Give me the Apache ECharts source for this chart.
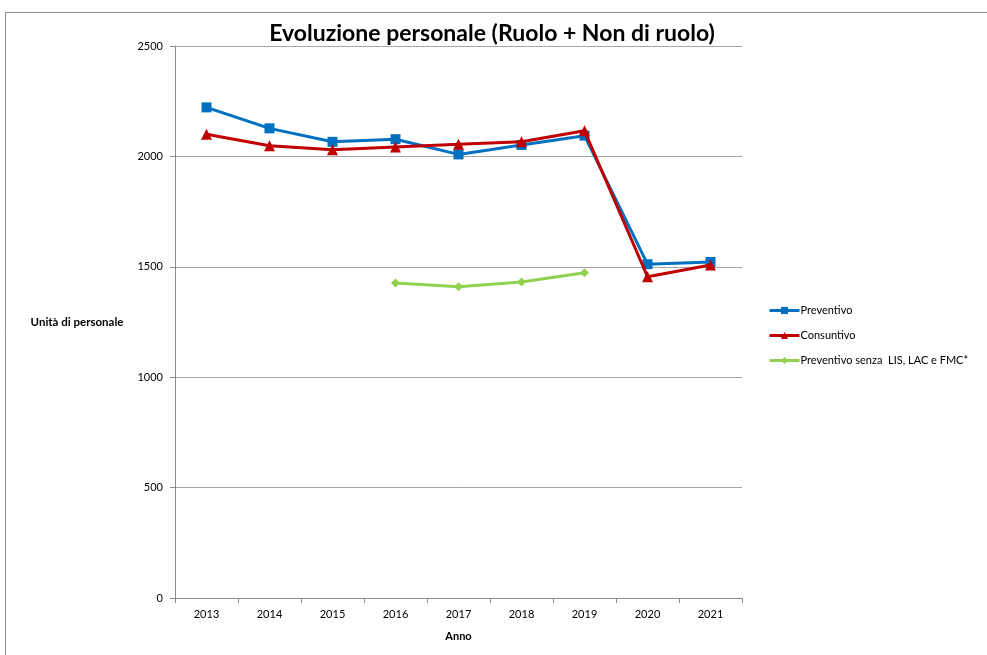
<!DOCTYPE html>
<html>
<head>
<meta charset="utf-8">
<script src="https://cdn.jsdelivr.net/npm/echarts@6/dist/echarts.min.js"></script>
<style>
  html, body { margin: 0; padding: 0; background: #fff; }
  #chart { width: 987px; height: 655px; }
</style>
</head>
<body>
<div id="chart"></div>
<script>
// Years on the horizontal axis
const years = ['2013', '2014', '2015', '2016', '2017', '2018', '2019', '2020', '2021'];

// Staff units per year
const preventivo = [2222, 2127, 2066, 2078, 2009, 2052, 2094, 1512, 1522];
const consuntivo = [2100, 2048, 2030, 2043, 2055, 2066, 2116, 1455, 1508];
const preventivoSenza = [null, null, null, 1427, 1410, 1431, 1473, null, null];

const seriesNames = ['Preventivo', 'Consuntivo', 'Preventivo senza  LIS, LAC e FMC*'];

const font = 'Lato, "Liberation Sans", sans-serif';

const chart = echarts.init(document.getElementById('chart'));

chart.setOption({
  animation: false,
  backgroundColor: '#fff',
  textStyle: { fontFamily: font },
  graphic: [{
    type: 'rect',
    silent: true,
    shape: { x: 5.5, y: 12.5, width: 1000, height: 700 },
    style: { fill: 'none', stroke: '#8c8c8c', lineWidth: 1 }
  }],
  title: {
    text: 'Evoluzione personale (Ruolo + Non di ruolo)',
    left: 487,
    textAlign: 'center',
    top: 17,
    textStyle: { fontFamily: font, fontSize: 23, fontWeight: 'bold', color: '#000' }
  },
  legend: {
    orient: 'vertical',
    left: 763,
    top: 300,
    itemWidth: 30,
    itemHeight: 9,
    itemGap: 14,
    data: seriesNames,
    lineStyle: { width: 3 },
    textStyle: { fontFamily: font, fontSize: 11, color: '#000', padding: [0, 0, 0, -4] }
  },
  grid: { left: 175, right: 245, top: 46, bottom: 57 },
  xAxis: {
    type: 'category',
    data: years,
    boundaryGap: true,
    name: 'Anno',
    nameLocation: 'middle',
    nameGap: 33,
    nameTextStyle: { fontFamily: font, fontSize: 11, fontWeight: 'bold', color: '#000' },
    axisLine: { lineStyle: { color: '#8c8c8c', width: 1 } },
    axisTick: { show: true, length: 5, lineStyle: { color: '#8c8c8c' } },
    axisLabel: { fontFamily: font, fontSize: 11, color: '#000', margin: 11 }
  },
  yAxis: {
    type: 'value',
    min: 0,
    max: 2500,
    interval: 500,
    name: 'Unità di personale',
    nameLocation: 'middle',
    nameRotate: 0,
    nameGap: 98,
    nameTextStyle: { fontFamily: font, fontSize: 11.5, fontWeight: 'bold', color: '#000', align: 'center' },
    axisLine: { show: true, lineStyle: { color: '#8c8c8c', width: 1 } },
    axisTick: { show: true, length: 5, inside: false, lineStyle: { color: '#8c8c8c' } },
    axisLabel: { fontFamily: font, fontSize: 11, color: '#000', margin: 12, formatter: (v) => String(v) },
    splitLine: { show: true, lineStyle: { color: '#a6a6a6', width: 1 } }
  },
  series: [
    {
      name: seriesNames[0],
      type: 'line',
      data: preventivo,
      symbol: 'rect',
      symbolSize: 10,
      lineStyle: { color: '#0070c0', width: 3 },
      itemStyle: { color: '#0070c0' },
      z: 2
    },
    {
      name: seriesNames[1],
      type: 'line',
      data: consuntivo,
      symbol: 'triangle',
      symbolSize: 11,
      lineStyle: { color: '#c00000', width: 3 },
      itemStyle: { color: '#c00000' },
      z: 3
    },
    {
      name: seriesNames[2],
      type: 'line',
      data: preventivoSenza,
      symbol: 'diamond',
      symbolSize: 9,
      connectNulls: false,
      lineStyle: { color: '#92d050', width: 3 },
      itemStyle: { color: '#92d050' },
      z: 1
    }
  ]
});
</script>
</body>
</html>
